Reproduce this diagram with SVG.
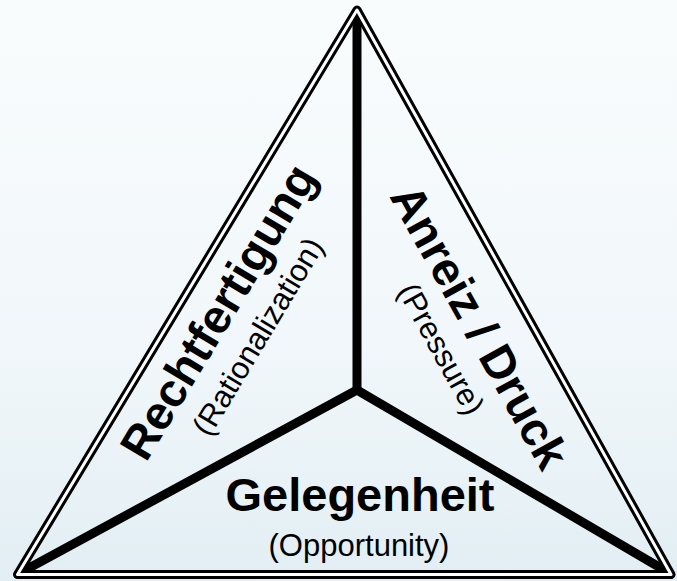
<svg xmlns="http://www.w3.org/2000/svg" width="677" height="581" viewBox="0 0 677 581">
  <defs>
    <linearGradient id="bg" x1="0" y1="0" x2="0" y2="1">
      <stop offset="0" stop-color="#f9fcfd"/>
      <stop offset="0.6" stop-color="#f1f7fa"/>
      <stop offset="1" stop-color="#e2eef4"/>
    </linearGradient>
  </defs>
  <style>
    .outerB { fill: none; stroke: #000; stroke-width: 9; stroke-linejoin: round; }
    .outerW { fill: none; stroke: #ffffff; stroke-width: 3; stroke-linejoin: round; }
    .spoke { fill: none; stroke: #000; stroke-width: 9; stroke-linecap: butt; stroke-linejoin: miter; }
    .big { font-family: "Liberation Sans", Arial, sans-serif; font-weight: bold; font-size: 47px; fill: #000; text-anchor: middle; }
    .small { font-family: "Liberation Sans", Arial, sans-serif; font-size: 31px; fill: #000; text-anchor: middle; }
  </style>
  <rect x="0" y="0" width="677" height="581" fill="url(#bg)"/>
  <g id="connectors">
    <path class="spoke" d="M357 10 L357 390"/>
    <path class="spoke" d="M18 574 L357 390 L671 574"/>
  </g>
  <g id="frame">
    <path class="outerB" d="M357 10 L671 574.5 L17.5 574.5 Z"/>
    <path class="outerW" d="M357 10 L671 574.5 L17.5 574.5 Z"/>
  </g>
  <g id="rationalization">
    <text class="big" transform="translate(232 320) rotate(-59)">Rechtfertigung</text>
    <text class="small" transform="translate(267 342) rotate(-59)">(Rationalization)</text>
  </g>
  <g id="pressure">
    <text class="big" transform="translate(465.5 334.5) rotate(61)">Anreiz / Druck</text>
    <text class="small" transform="translate(432 354) rotate(61)">(Pressure)</text>
  </g>
  <g id="opportunity">
    <text class="big" x="360" y="511">Gelegenheit</text>
    <text class="small" x="359" y="556">(Opportunity)</text>
  </g>
</svg>
